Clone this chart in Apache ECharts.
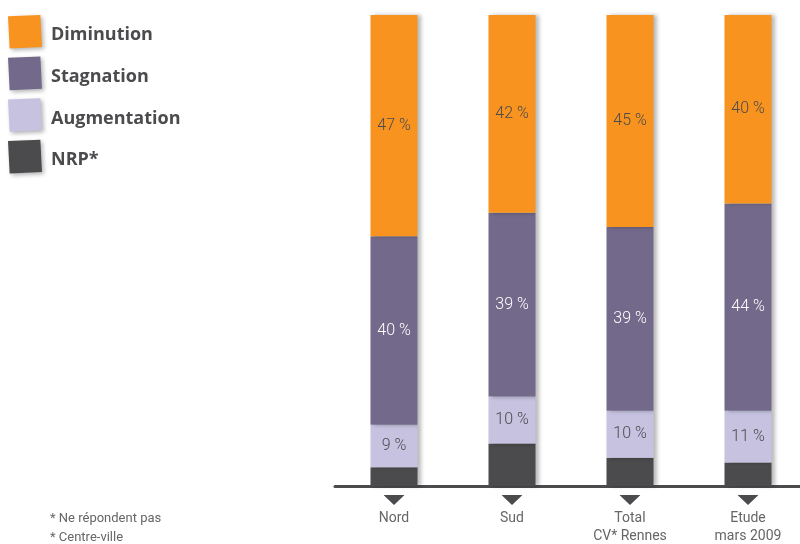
<!DOCTYPE html>
<html>
<head>
<meta charset="utf-8">
<style>
  html, body { margin: 0; padding: 0; background: #ffffff; }
  #chart { width: 800px; height: 544px; }
</style>
<script src="https://cdn.jsdelivr.net/npm/echarts@6/dist/echarts.min.js"></script>
</head>
<body>
<div id="chart"></div>
<script>
// Survey answers per area, in percent (stacked bottom to top: NRP, Augmentation, Stagnation, Diminution)
const categories = ['Nord', 'Sud', 'Total\nCV* Rennes', 'Etude\nmars 2009'];
const nrp = [4, 9, 6, 5];
const augmentation = [9, 10, 10, 11];
const stagnation = [40, 39, 39, 44];
const diminution = [47, 42, 45, 40];
const footnotes = ['* Ne répondent pas', '* Centre-ville'];

const COLORS = {
  diminution: '#F7931E',
  stagnation: '#736A8B',
  augmentation: '#C6C2E0',
  nrp: '#4B4B4E'
};
const AXIS_COLOR = '#4B4B4E';
const LABEL_FONT = 'Roboto, "Open Sans", sans-serif';

// Small downward triangle shown under each category name
const triSvg = '<svg xmlns="http://www.w3.org/2000/svg" width="21" height="14">' +
  '<polygon points="0,0 21,0 10.5,10" fill="' + AXIS_COLOR + '"/></svg>';
const triImage = 'data:image/svg+xml;charset=utf-8,' + encodeURIComponent(triSvg);

// Slightly tilted square for the legend swatches
const legendIcon = 'path://M0,1.3 L33.3,0 L35,33 L1.7,34.6 Z';

const barShadow = {
  shadowColor: 'rgba(0,0,0,0.28)',
  shadowBlur: 4,
  shadowOffsetX: 3,
  shadowOffsetY: 0
};

function makeSeries(name, data, color, labelColor) {
  return {
    name: name,
    type: 'bar',
    stack: 'total',
    data: data,
    barWidth: 47,
    itemStyle: Object.assign({ color: color }, barShadow),
    label: labelColor ? {
      show: true,
      position: 'inside',
      formatter: '{c} %',
      color: labelColor,
      fontFamily: LABEL_FONT,
      fontSize: 16,
      fontWeight: 300
    } : { show: false },
    emphasis: { disabled: true }
  };
}

const chart = echarts.init(document.getElementById('chart'), null, { renderer: 'canvas' });

chart.setOption({
  animation: false,
  backgroundColor: '#ffffff',
  grid: { left: 335, width: 472, top: 15, bottom: 58, outerBoundsMode: 'none', containLabel: false },
  legend: {
    orient: 'vertical',
    left: 8,
    top: 15,
    padding: 0,
    itemWidth: 34,
    itemHeight: 34,
    itemGap: 8,
    icon: legendIcon,
    selectedMode: false,
    data: ['Diminution', 'Stagnation', 'Augmentation', 'NRP*'],
    itemStyle: {
      shadowColor: 'rgba(0,0,0,0.3)',
      shadowBlur: 4,
      shadowOffsetX: 2,
      shadowOffsetY: 2
    },
    formatter: '{t|{name}}',
    textStyle: {
      color: '#4B4B4E',
      fontFamily: '"Open Sans", sans-serif',
      fontSize: 18,
      fontWeight: 'bold',
      rich: {
        t: {
          color: '#4B4B4E',
          fontFamily: '"Open Sans", sans-serif',
          fontSize: 18,
          fontWeight: 'bold',
          padding: [7, 0, 0, 4]
        }
      }
    }
  },
  xAxis: {
    type: 'category',
    data: categories,
    axisLine: { lineStyle: { color: AXIS_COLOR, width: 3 } },
    axisTick: { show: false },
    axisLabel: {
      margin: 9,
      interval: 0,
      formatter: function (v) { return '{tri|}\n{name|' + v + '}'; },
      rich: {
        tri: {
          width: 21,
          height: 14,
          backgroundColor: { image: triImage }
        },
        name: {
          color: '#666666',
          fontFamily: LABEL_FONT,
          fontSize: 14,
          lineHeight: 18.5
        }
      }
    }
  },
  yAxis: {
    type: 'value',
    min: 0,
    max: 100,
    show: false,
    splitLine: { show: false }
  },
  series: [
    makeSeries('NRP*', nrp, COLORS.nrp, null),
    makeSeries('Augmentation', augmentation, COLORS.augmentation, '#4B4B4E'),
    makeSeries('Stagnation', stagnation, COLORS.stagnation, '#ffffff'),
    makeSeries('Diminution', diminution, COLORS.diminution, '#4B4B4E')
  ],
  graphic: footnotes.map(function (t, i) {
    return {
      type: 'text',
      left: 50,
      top: 512 + i * 19,
      style: {
        text: t,
        fill: '#666666',
        font: '13px ' + LABEL_FONT
      }
    };
  })
});
</script>
</body>
</html>
